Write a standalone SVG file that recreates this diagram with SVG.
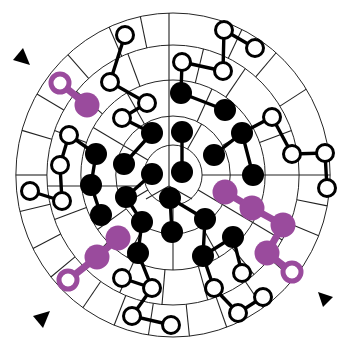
<svg xmlns="http://www.w3.org/2000/svg" width="341" height="342" viewBox="0 0 341 342">
<style>
.ring{fill:none;stroke:#222;stroke-width:1}
.wall{stroke:#222;stroke-width:1.1}
.c{stroke:#000;stroke-width:3.4;fill:none}
.pc{stroke:#9a4b9d;stroke-width:7;fill:none}
.b{fill:#000}
.o{fill:#fff;stroke:#000;stroke-width:3}
.p{fill:#9a4b9d}
.po{fill:#fff;stroke:#9a4b9d;stroke-width:5}
.tri{fill:#000}
</style>
<rect width="341" height="342" fill="#fff"/>
<g id="board">
<g transform="translate(173 175) scale(0.97 1)">
<circle class="ring" r="162"/>
<circle class="ring" r="130"/>
<circle class="ring" r="95"/>
<circle class="ring" r="59"/>
<circle class="ring" r="30"/>
<g class="wall">
<line x1="30" x2="162" transform="rotate(0)"/>
<line x1="130" x2="162" transform="rotate(-32)"/>
<line x1="130" x2="162" transform="rotate(-49)"/>
<line x1="130" x2="162" transform="rotate(-64)"/>
<line x1="130" x2="162" transform="rotate(-102)"/>
<line x1="130" x2="162" transform="rotate(-114)"/>
<line x1="130" x2="162" transform="rotate(-132)"/>
<line x1="130" x2="162" transform="rotate(-150)"/>
<line x1="130" x2="162" transform="rotate(-164)"/>
<line x1="130" x2="162" transform="rotate(-180)"/>
<line x1="130" x2="162" transform="rotate(-193)"/>
<line x1="130" x2="162" transform="rotate(-207)"/>
<line x1="130" x2="162" transform="rotate(-219)"/>
<line x1="130" x2="162" transform="rotate(-235)"/>
<line x1="130" x2="162" transform="rotate(-248)"/>
<line x1="130" x2="162" transform="rotate(-261)"/>
<line x1="130" x2="162" transform="rotate(-276)"/>
<line x1="130" x2="162" transform="rotate(-290)"/>
<line x1="130" x2="162" transform="rotate(-305)"/>
<line x1="130" x2="162" transform="rotate(-320)"/>
<line x1="130" x2="162" transform="rotate(-338)"/>
<line x1="130" x2="162" transform="rotate(-349)"/>
<line x1="95" x2="130" transform="rotate(-20)"/>
<line x1="95" x2="130" transform="rotate(-55)"/>
<line x1="95" x2="130" transform="rotate(-76)"/>
<line x1="95" x2="130" transform="rotate(-111)"/>
<line x1="95" x2="130" transform="rotate(-140)"/>
<line x1="95" x2="130" transform="rotate(-160)"/>
<line x1="95" x2="130" transform="rotate(-200)"/>
<line x1="95" x2="130" transform="rotate(-225)"/>
<line x1="95" x2="130" transform="rotate(-245)"/>
<line x1="95" x2="130" transform="rotate(-265)"/>
<line x1="95" x2="130" transform="rotate(-286)"/>
<line x1="95" x2="130" transform="rotate(-310)"/>
<line x1="95" x2="130" transform="rotate(-330)"/>
<line x1="59" x2="95" transform="rotate(-30)"/>
<line x1="59" x2="95" transform="rotate(-65)"/>
<line x1="59" x2="95" transform="rotate(-120)"/>
<line x1="59" x2="95" transform="rotate(-150)"/>
<line x1="59" x2="95" transform="rotate(-215)"/>
<line x1="59" x2="95" transform="rotate(-240)"/>
<line x1="59" x2="95" transform="rotate(-270)"/>
<line x1="59" x2="95" transform="rotate(-300)"/>
<line x1="59" x2="95" transform="rotate(-330)"/>
<line x1="30" x2="59" transform="rotate(-60)"/>
<line x1="30" x2="59" transform="rotate(-150)"/>
<line x1="30" x2="59" transform="rotate(-210)"/>
<line x1="30" x2="59" transform="rotate(-270)"/>
<line x1="30" x2="59" transform="rotate(-330)"/>
</g>
</g>
<path class="wall" fill="none" d="M169 13V186L146 199M169 186L192 199M48 186H141"/>
</g>
<g id="connectors">
<path class="c" d="M181 93L225 110M181 93L182 62M182 62L223 71M223 71L224 30M224 30L255 48"/>
<path class="c" d="M125 35L110 82L147 103L122 118L152 133L124 164"/>
<path class="c" d="M182 132L182 172M214 155L242 133L272 117L292 154L325 153L327 188M242 133L253 175"/>
<path class="c" d="M69 135L96 154L91 185L101 215M69 135L60 165L62 201L30 191"/>
<path class="c" d="M152 174L126 197L142 222L138 253L152 288L122 278M152 288L132 316L171 325"/>
<path class="c" d="M170 198L205 219L203 256L214 288L238 313L263 297M203 256L233 237L242 273M170 198L172 232"/>
<path class="pc" d="M60 83L87 105M68 280L97 257L118 238M225 192L252 208L283 225L267 253L292 272"/>
</g>
<g id="n-b1"><circle class="b" cx="181" cy="93" r="11"/></g>
<g id="n-b2"><circle class="b" cx="225" cy="110" r="11"/></g>
<g id="n-b3"><circle class="b" cx="152" cy="133" r="11"/></g>
<g id="n-b4"><circle class="b" cx="182" cy="132" r="11"/></g>
<g id="n-b5"><circle class="b" cx="242" cy="133" r="11"/></g>
<g id="n-b6"><circle class="b" cx="96" cy="154" r="11"/></g>
<g id="n-b7"><circle class="b" cx="124" cy="164" r="11"/></g>
<g id="n-b8"><circle class="b" cx="214" cy="155" r="11"/></g>
<g id="n-b9"><circle class="b" cx="152" cy="174" r="11"/></g>
<g id="n-b10"><circle class="b" cx="182" cy="172" r="11"/></g>
<g id="n-b11"><circle class="b" cx="253" cy="175" r="11"/></g>
<g id="n-b12"><circle class="b" cx="91" cy="185" r="11"/></g>
<g id="n-b13"><circle class="b" cx="126" cy="197" r="11"/></g>
<g id="n-b14"><circle class="b" cx="170" cy="198" r="11"/></g>
<g id="n-b15"><circle class="b" cx="101" cy="215" r="11"/></g>
<g id="n-b16"><circle class="b" cx="142" cy="222" r="11"/></g>
<g id="n-b17"><circle class="b" cx="205" cy="219" r="11"/></g>
<g id="n-b18"><circle class="b" cx="172" cy="232" r="11"/></g>
<g id="n-b19"><circle class="b" cx="138" cy="253" r="11"/></g>
<g id="n-b20"><circle class="b" cx="203" cy="256" r="11"/></g>
<g id="n-b21"><circle class="b" cx="233" cy="237" r="11"/></g>
<g id="n-o1"><circle class="o" cx="125" cy="35" r="8.5"/></g>
<g id="n-o2"><circle class="o" cx="110" cy="82" r="8.5"/></g>
<g id="n-o3"><circle class="o" cx="147" cy="103" r="8.5"/></g>
<g id="n-o4"><circle class="o" cx="122" cy="118" r="8.5"/></g>
<g id="n-o5"><circle class="o" cx="182" cy="62" r="8.5"/></g>
<g id="n-o6"><circle class="o" cx="224" cy="30" r="8.5"/></g>
<g id="n-o7"><circle class="o" cx="255" cy="48" r="8.5"/></g>
<g id="n-o8"><circle class="o" cx="223" cy="71" r="8.5"/></g>
<g id="n-o9"><circle class="o" cx="272" cy="117" r="8.5"/></g>
<g id="n-o10"><circle class="o" cx="292" cy="154" r="8.5"/></g>
<g id="n-o11"><circle class="o" cx="325" cy="153" r="8.5"/></g>
<g id="n-o12"><circle class="o" cx="327" cy="188" r="8.5"/></g>
<g id="n-o13"><circle class="o" cx="69" cy="135" r="8.5"/></g>
<g id="n-o14"><circle class="o" cx="60" cy="165" r="8.5"/></g>
<g id="n-o15"><circle class="o" cx="30" cy="191" r="8.5"/></g>
<g id="n-o16"><circle class="o" cx="62" cy="201" r="8.5"/></g>
<g id="n-o17"><circle class="o" cx="122" cy="278" r="8.5"/></g>
<g id="n-o18"><circle class="o" cx="152" cy="288" r="8.5"/></g>
<g id="n-o19"><circle class="o" cx="132" cy="316" r="8.5"/></g>
<g id="n-o20"><circle class="o" cx="171" cy="325" r="8.5"/></g>
<g id="n-o21"><circle class="o" cx="214" cy="288" r="8.5"/></g>
<g id="n-o22"><circle class="o" cx="242" cy="273" r="8.5"/></g>
<g id="n-o23"><circle class="o" cx="263" cy="297" r="8.5"/></g>
<g id="n-o24"><circle class="o" cx="238" cy="313" r="8.5"/></g>
<g id="n-p1"><circle class="po" cx="60" cy="83" r="9"/></g>
<g id="n-p2"><circle class="p" cx="87" cy="105" r="12.5"/></g>
<g id="n-p3"><circle class="po" cx="68" cy="280" r="9"/></g>
<g id="n-p4"><circle class="p" cx="97" cy="257" r="12.5"/></g>
<g id="n-p5"><circle class="p" cx="118" cy="238" r="12.5"/></g>
<g id="n-p6"><circle class="p" cx="225" cy="192" r="12.5"/></g>
<g id="n-p7"><circle class="p" cx="252" cy="208" r="12.5"/></g>
<g id="n-p8"><circle class="p" cx="283" cy="225" r="12.5"/></g>
<g id="n-p9"><circle class="p" cx="267" cy="253" r="12.5"/></g>
<g id="n-p10"><circle class="po" cx="292" cy="272" r="9"/></g>
<g id="markers">
<polygon class="tri" points="23,48 13,60 30,65"/>
<polygon class="tri" points="33,316 50,311 43,328"/>
<polygon class="tri" points="318,292 333,297 323,307"/>
</g>
</svg>
